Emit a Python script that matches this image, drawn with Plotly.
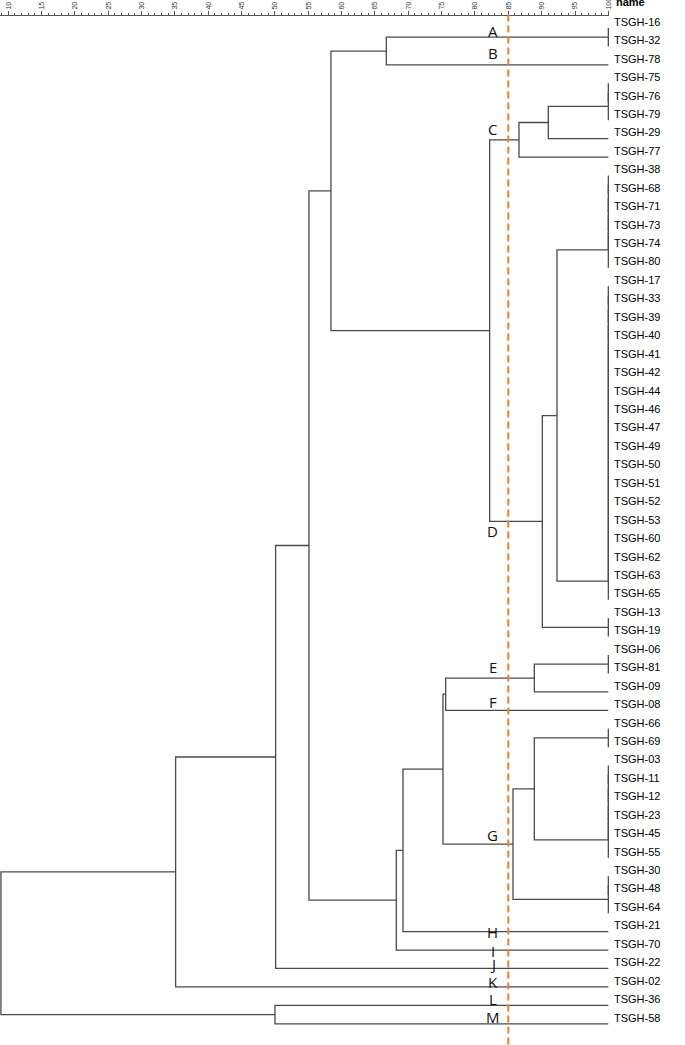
import plotly.graph_objects as go

# ---------------- data ----------------
leaves = ["TSGH-16", "TSGH-32", "TSGH-78", "TSGH-75", "TSGH-76", "TSGH-79", "TSGH-29", "TSGH-77",
          "TSGH-38", "TSGH-68", "TSGH-71", "TSGH-73", "TSGH-74", "TSGH-80", "TSGH-17", "TSGH-33",
          "TSGH-39", "TSGH-40", "TSGH-41", "TSGH-42", "TSGH-44", "TSGH-46", "TSGH-47", "TSGH-49",
          "TSGH-50", "TSGH-51", "TSGH-52", "TSGH-53", "TSGH-60", "TSGH-62", "TSGH-63", "TSGH-65",
          "TSGH-13", "TSGH-19", "TSGH-06", "TSGH-81", "TSGH-09", "TSGH-08", "TSGH-66", "TSGH-69",
          "TSGH-03", "TSGH-11", "TSGH-12", "TSGH-23", "TSGH-45", "TSGH-55", "TSGH-30", "TSGH-48",
          "TSGH-64", "TSGH-21", "TSGH-70", "TSGH-22", "TSGH-02", "TSGH-36", "TSGH-58"]

# groups of identical (100 % similar) isolates
group_names = ["gA", "gC", "gD1", "gD2", "gD3", "gE", "gG1", "gG2", "gG3"]
group_members = [
    ["TSGH-16", "TSGH-32"],
    ["TSGH-75", "TSGH-76", "TSGH-79"],
    ["TSGH-38", "TSGH-68", "TSGH-71", "TSGH-73", "TSGH-74", "TSGH-80"],
    ["TSGH-17", "TSGH-33", "TSGH-39", "TSGH-40", "TSGH-41", "TSGH-42", "TSGH-44", "TSGH-46",
     "TSGH-47", "TSGH-49", "TSGH-50", "TSGH-51", "TSGH-52", "TSGH-53", "TSGH-60", "TSGH-62",
     "TSGH-63", "TSGH-65"],
    ["TSGH-13", "TSGH-19"],
    ["TSGH-06", "TSGH-81"],
    ["TSGH-66", "TSGH-69"],
    ["TSGH-03", "TSGH-11", "TSGH-12", "TSGH-23", "TSGH-45", "TSGH-55"],
    ["TSGH-30", "TSGH-48", "TSGH-64"],
]

# merges (node, left child, right child, similarity %)
merge_names = ["AB", "C1", "C2", "D1", "D2", "CD", "UP", "E1", "EF", "G1", "G", "EFG",
               "H", "I", "UL", "J", "K", "LM", "root"]
merge_left = ["gA", "gC", "C1", "gD1", "D1", "C2", "AB", "gE", "E1", "gG1", "G1", "EF",
              "EFG", "H", "UP", "UL", "J", "TSGH-36", "K"]
merge_right = ["TSGH-78", "TSGH-29", "TSGH-77", "gD2", "gD3", "D2", "CD", "TSGH-09", "TSGH-08",
               "gG2", "gG3", "G", "TSGH-21", "TSGH-70", "I", "TSGH-22", "TSGH-02", "TSGH-58", "LM"]
merge_similarity = [66.7, 91.0, 86.6, 92.3, 90.1, 82.2, 58.4, 88.9, 75.6, 88.9, 85.7, 75.2,
                    69.2, 68.2, 55.1, 50.1, 35.1, 50.0, 8.9]

cluster_letters = ["A", "B", "C", "D", "E", "F", "G", "H", "I", "J", "K", "L", "M"]
letter_rows = [0.14, 1.36, 5.48, 27.28, 34.65, 36.55, 43.76, 49.0, 50.05, 50.76, 51.74, 52.66, 53.63]

cutoff = 85
x_ticks = list(range(10, 101, 5))

# ---------------- build dendrogram geometry ----------------
pos = {name: (100.0, float(i)) for i, name in enumerate(leaves)}
xs, ys = [], []


def join(left, right, sim, new):
    xl, yl = pos[left]
    xr, yr = pos[right]
    xs.extend([xl, sim, sim, xr, None])
    ys.extend([yl, yl, yr, yr, None])
    pos[new] = (sim, (yl + yr) / 2.0)


for gname, members in zip(group_names, group_members):
    cur = members[0]
    for k, m in enumerate(members[1:]):
        nid = f"{gname}_{k}"
        join(cur, m, 100.0, nid)
        cur = nid
    pos[gname] = pos[cur]

for n, l, r, s in zip(merge_names, merge_left, merge_right, merge_similarity):
    join(l, r, s, n)

fig = go.Figure()
fig.add_trace(go.Scatter(x=xs, y=ys, mode="lines",
                         line=dict(color="#4a4a4a", width=1.3),
                         hoverinfo="skip", showlegend=False))

# cut-off line
fig.add_shape(type="line", xref="x", yref="paper", x0=cutoff, x1=cutoff,
              y0=1.0015, y1=0, line=dict(color="#ED7D31", width=2, dash="7px,4px"))

# cluster letters
for t, r in zip(cluster_letters, letter_rows):
    fig.add_annotation(x=82.7, y=r, xref="x", yref="y", text=t, showarrow=False,
                       xanchor="center", yanchor="middle",
                       font=dict(family="Open Sans", size=15, color="#111111"))

# header
fig.add_annotation(x=1.008, y=1.0135, xref="paper", yref="paper", text="<b>name</b>",
                   showarrow=False, xanchor="left", yanchor="middle",
                   font=dict(family="Liberation Sans", size=11, color="#000000"))

label_rows = [i - 0.33 for i in range(len(leaves))]

fig.update_layout(
    width=685, height=1045,
    margin=dict(l=0, r=76, t=16, b=0, pad=0, autoexpand=False),
    paper_bgcolor="white", plot_bgcolor="white",
    showlegend=False,
    xaxis=dict(range=[8.76, 100.1], side="top", showgrid=False, zeroline=False,
               automargin=False,
               showline=True, linecolor="#555555", linewidth=1,
               ticks="outside", ticklen=4, tickcolor="#555555", tickwidth=1,
               tickvals=x_ticks, ticktext=[str(v) for v in x_ticks], tickangle=-90,
               tickfont=dict(family="Liberation Sans", size=7, color="#333333"),
               minor=dict(ticks="outside", ticklen=2, dtick=1, tick0=10,
                          tickcolor="#555555", showgrid=False)),
    yaxis=dict(range=[55.15, -0.65], side="right", showgrid=False, zeroline=False,
               automargin=False,
               showline=False, ticks="", tickvals=label_rows, ticktext=leaves,
               ticklabelstandoff=4,
               tickfont=dict(family="Liberation Sans", size=11, color="#000000")),
)

fig.write_html("out.html",
               config={"displayModeBar": False, "staticPlot": True},
               post_script="document.body.style.margin='0px';"
                           "document.body.style.overflow='hidden';")
